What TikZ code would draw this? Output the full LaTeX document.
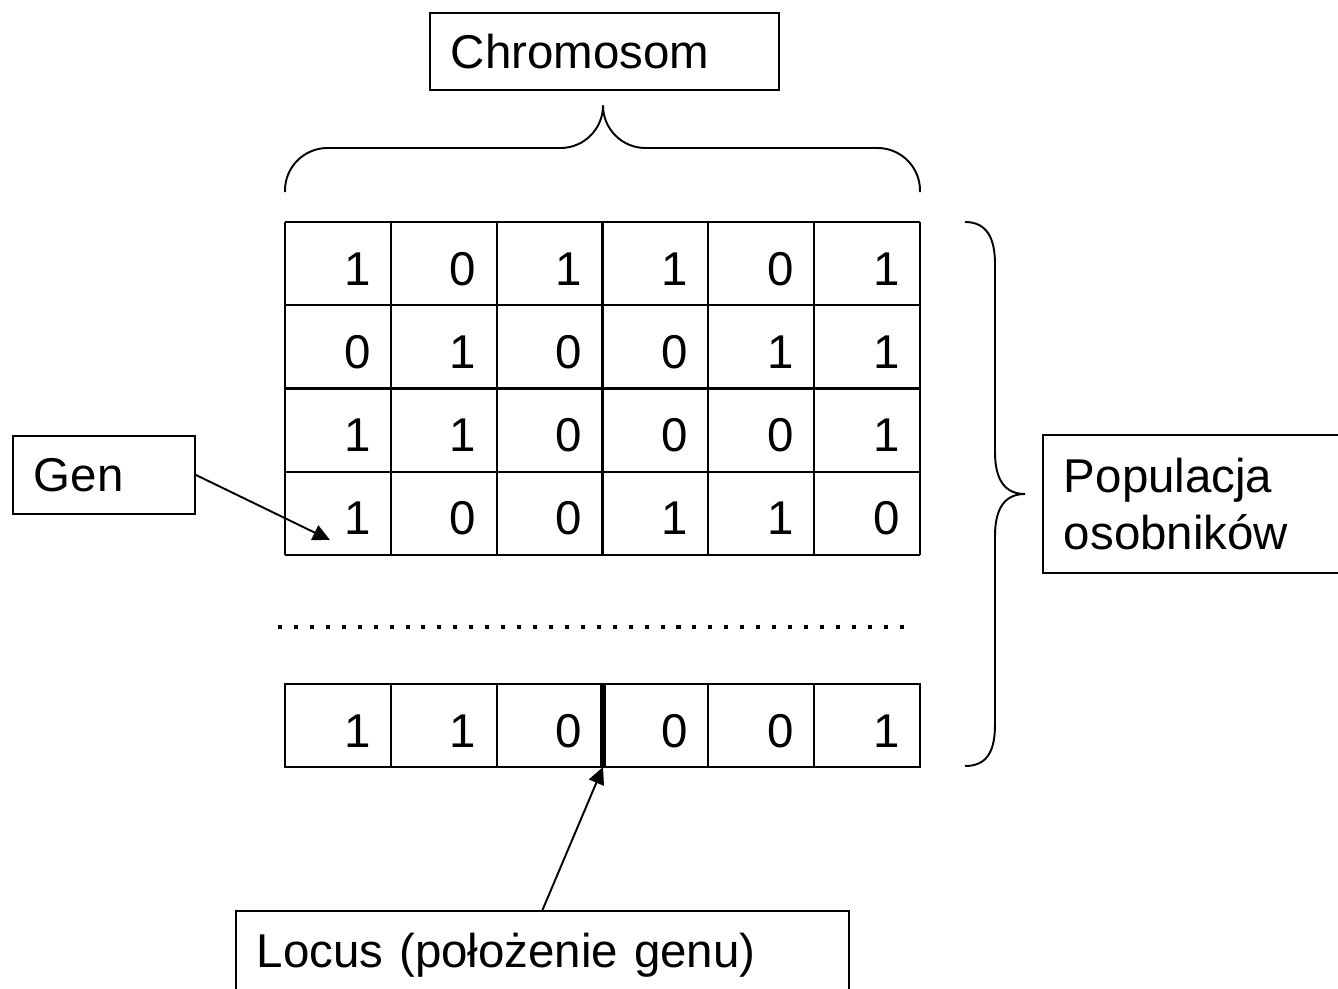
\documentclass[tikz,border=0pt]{standalone}
\usepackage{fontspec}
\setmainfont{Liberation Sans}
\usetikzlibrary{arrows.meta}

\begin{document}
\begin{tikzpicture}[x=0.2mm,y=-0.2mm,
	every node/.style={font=\fontsize{27}{32}\selectfont},
	box/.style={draw,line width=1.1pt,anchor=north west,align=left,inner xsep=4.2mm},
	bit/.style={anchor=base east,inner sep=0pt},
	cell/.style={line width=1.2pt},
	brace/.style={line width=1.1pt},
	pointer/.style={line width=1.1pt,-{Triangle[length=3.4mm,width=3.2mm]}}]

	\useasboundingbox (0,0) rectangle (1338,988);

	% populacja: cztery chromosomy
	\foreach \row [count=\r from 0] in {{1,0,1,1,0,1},{0,1,0,0,1,1},{1,1,0,0,0,1},{1,0,0,1,1,0}}
		\foreach \b [count=\c] in \row
			\node[bit] (b\r\c) at (265+105.83*\c,285+83.25*\r) {\b};
	\foreach \r in {0,...,4}
		\draw[cell] (285,222+83.25*\r) -- (920,222+83.25*\r);
	\foreach \c in {0,...,6}
		\draw[cell] (285+105.83*\c,222) -- (285+105.83*\c,555);

	\draw[line width=2.3pt,dash pattern=on 2.3pt off 6.77pt] (278,627) -- (910,627);

	% ostatni chromosom
	\foreach \b [count=\c] in {1,1,0,0,0,1}
		\node[bit] (l\c) at (265+105.83*\c,747) {\b};
	\draw[cell] (285,684) rectangle (920,767);
	\foreach \c in {1,2,4,5}
		\draw[cell] (285+105.83*\c,684) -- (285+105.83*\c,767);
	\coordinate (locus) at (603,767);
	\draw[line width=3.6pt] (603,684) -- (locus);

	\node[box,text width=61.4mm,minimum height=15.4mm] (chrom) at (429,12) {Chromosom};
	\node[box,text width=28mm,minimum height=15.6mm] (gen) at (12,435) {Gen};
	\node[box,text width=63.6mm,minimum height=27.6mm] (pop) at (1042,434) {Populacja\\osobników};
	\node[box,text width=114.2mm,minimum height=17.8mm] (loc) at (235,910) {Locus (położenie genu)};

	\coordinate (gene) at (330,540);
	\draw[pointer] (gen.east) -- (gene);
	\draw[pointer] (loc.north) -- (locus);

	% klamry
	\draw[brace,rounded corners=8.5mm] (285,192) |- (603,148) -- (603,106);
	\draw[brace,rounded corners=8.5mm] (603,106) |- (920,148) -- (920,192);
	\draw[brace] (965,222) .. controls (988,222) and (995,240) .. (995,264) -- (995,452)
		.. controls (995,480) and (1005,494) .. (1025,494);
	\draw[brace] (1025,494) .. controls (1005,494) and (995,508) .. (995,536) -- (995,724)
		.. controls (995,750) and (988,766) .. (965,766);

\end{tikzpicture}
\end{document}
